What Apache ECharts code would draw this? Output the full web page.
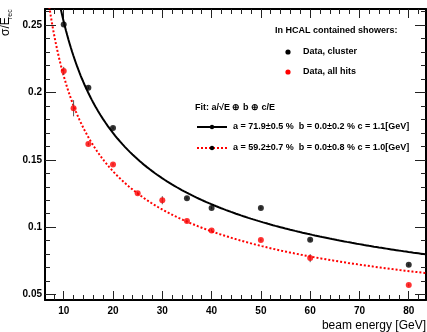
<!DOCTYPE html>
<html>
<head>
<meta charset="utf-8">
<script src="https://cdn.jsdelivr.net/npm/echarts@6/dist/echarts.min.js"></script>
<style>
  html, body { margin: 0; padding: 0; background: #fff; }
  #chart { width: 427px; height: 332px; }
</style>
</head>
<body>
<div id="chart"></div>
<script>
// Energy resolution of HCAL-contained showers: cluster vs. all-hits energy
const energyCluster = [10, 15, 20, 35, 40, 50, 60, 80];
const sigmaCluster  = [0.2505, 0.2036, 0.1737, 0.1215, 0.1143, 0.1143, 0.0906, 0.0720];
const errCluster    = [0.0012, 0.0010, 0.0010, 0.0010, 0.0010, 0.0010, 0.0010, 0.0010];

const energyHits = [10, 12, 15, 20, 25, 30, 35, 40, 50, 60, 80];
const sigmaHits  = [0.2160, 0.1883, 0.1618, 0.1466, 0.1252, 0.1200, 0.1045, 0.0976, 0.0904, 0.0770, 0.0570];
const errHits    = [0.0030, 0.0060, 0.0010, 0.0010, 0.0010, 0.0030, 0.0010, 0.0010, 0.0010, 0.0030, 0.0010];

// Fit parameters of sigma/E = a/sqrt(E) (+) b (+) c/E  (a, b as fractions, c in GeV)
const fitCluster = { a: 0.719, b: 0.000, c: 1.1 };
const fitHits    = { a: 0.592, b: 0.000, c: 1.0 };

const xTickValues = [10, 20, 30, 40, 50, 60, 70, 80];
const yTickValues = [0.05, 0.1, 0.15, 0.2, 0.25];

const X_MIN = 6.2, X_MAX = 83.5;
const Y_MIN = 0.0459, Y_MAX = 0.262;

const FONT = '"Liberation Sans", Arial, Helvetica, sans-serif';

// minor tick positions
const xMinor = [];
for (let v = 8; v <= 82; v += 2) if (v % 10 !== 0) xMinor.push(v);
const yMinor = [];
for (let k = 5; k <= 26; k++) if (k % 5 !== 0) yMinor.push(k / 100);

function resolution(p, E) {
  const s = p.a / Math.sqrt(E), c = p.c / E;
  return Math.sqrt(s * s + p.b * p.b + c * c);
}
function fitLine(p) {
  const pts = [];
  for (let E = X_MIN; E <= X_MAX + 1e-9; E += 0.25) pts.push([E, resolution(p, E)]);
  return pts;
}

const tickStyle = { color: '#222', width: 1 };
const frameStyle = { color: '#000', width: 2 };

function xAxisDef(position, values, len, showLine, showLabel) {
  return {
    type: 'value', min: X_MIN, max: X_MAX, position: position,
    axisLine: { show: showLine, onZero: false, lineStyle: frameStyle },
    axisTick: { show: true, inside: true, length: len, customValues: values, lineStyle: tickStyle },
    axisLabel: showLabel ? {
      show: true, customValues: values, margin: 6,
      fontFamily: FONT, fontSize: 10, fontWeight: 'bold', color: '#000'
    } : { show: false },
    splitLine: { show: false }
  };
}
function yAxisDef(position, values, len, showLine, showLabel) {
  return {
    type: 'value', min: Y_MIN, max: Y_MAX, position: position,
    axisLine: { show: showLine, onZero: false, lineStyle: frameStyle },
    axisTick: { show: true, inside: true, length: len, customValues: values, lineStyle: tickStyle },
    axisLabel: showLabel ? {
      show: true, customValues: values, margin: 3,
      fontFamily: FONT, fontSize: 10, fontWeight: 'bold', color: '#000',
      formatter: v => String(Math.round(v * 100) / 100)
    } : { show: false },
    splitLine: { show: false }
  };
}

function pairs(xs, ys) { return xs.map((x, i) => [x, ys[i]]); }
function errTriples(xs, ys, es) { return xs.map((x, i) => [x, ys[i], es[i]]); }

function errorBars(data) {
  return {
    type: 'custom', xAxisIndex: 0, yAxisIndex: 0, z: 3,
    data: data,
    renderItem: function (params, api) {
      const x = api.value(0), y = api.value(1), e = api.value(2);
      const lo = api.coord([x, y - e]), hi = api.coord([x, y + e]);
      return {
        type: 'line',
        shape: { x1: lo[0], y1: lo[1], x2: hi[0], y2: hi[1] },
        style: { stroke: '#555', lineWidth: 1 }
      };
    }
  };
}

const chart = echarts.init(document.getElementById('chart'), null, { renderer: 'canvas' });

const legendText = (x, y, text) => ({
  type: 'text', x: x, y: y,
  style: { text: text, fontFamily: FONT, fontSize: 9, fontWeight: 'bold', fill: '#000',
           textAlign: 'left', textVerticalAlign: 'middle' }
});

chart.setOption({
  animation: false,
  backgroundColor: '#fff',
  grid: { left: 45, right: 1, top: 9, bottom: 32, outerBoundsMode: 'none' },
  xAxis: [
    xAxisDef('bottom', xTickValues, 9, true, true),
    xAxisDef('bottom', xMinor, 5, false, false),
    xAxisDef('top', xTickValues, 9, true, false),
    xAxisDef('top', xMinor, 5, false, false)
  ],
  yAxis: [
    yAxisDef('left', yTickValues, 11, true, true),
    yAxisDef('left', yMinor, 5, false, false),
    yAxisDef('right', yTickValues, 11, true, false),
    yAxisDef('right', yMinor, 5, false, false)
  ],
  series: [
    {
      type: 'line', name: 'fit cluster', xAxisIndex: 0, yAxisIndex: 0,
      data: fitLine(fitCluster), showSymbol: false, clip: true, z: 2,
      lineStyle: { color: '#000', width: 2 }
    },
    {
      type: 'line', name: 'fit all hits', xAxisIndex: 0, yAxisIndex: 0,
      data: fitLine(fitHits), showSymbol: false, clip: true, z: 2,
      lineStyle: { color: '#ff0000', width: 2, type: [2, 2] }
    },
    errorBars(errTriples(energyCluster, sigmaCluster, errCluster)),
    errorBars(errTriples(energyHits, sigmaHits, errHits)),
    {
      type: 'scatter', name: 'Data, cluster', xAxisIndex: 0, yAxisIndex: 0, z: 4,
      data: pairs(energyCluster, sigmaCluster), symbol: 'circle', symbolSize: 6,
      itemStyle: { color: '#000' }
    },
    {
      type: 'scatter', name: 'Data, all hits', xAxisIndex: 0, yAxisIndex: 0, z: 4,
      data: pairs(energyHits, sigmaHits), symbol: 'circle', symbolSize: 6,
      itemStyle: { color: '#ff0000' }
    }
  ],
  graphic: [
    // axis titles
    {
      type: 'text', x: 12, y: 36, rotation: Math.PI / 2,
      style: { text: 'σ/E', fontFamily: FONT, fontSize: 12, fill: '#000',
               textAlign: 'left', textVerticalAlign: 'bottom' }
    },
    {
      type: 'text', x: 13.5, y: 19, rotation: Math.PI / 2,
      style: { text: 'rec', fontFamily: FONT, fontSize: 7, fill: '#000',
               textAlign: 'left', textVerticalAlign: 'bottom' }
    },
    {
      type: 'text', x: 426, y: 326,
      style: { text: 'beam energy [GeV]', fontFamily: FONT, fontSize: 12, fill: '#000',
               textAlign: 'right', textVerticalAlign: 'middle' }
    },
    // data legend
    legendText(275, 31, 'In HCAL contained showers:'),
    { type: 'circle', shape: { cx: 288, cy: 52, r: 2.6 }, style: { fill: '#000' } },
    legendText(303, 52, 'Data, cluster'),
    { type: 'circle', shape: { cx: 288, cy: 72, r: 2.6 }, style: { fill: '#ff0000' } },
    legendText(303, 72, 'Data, all hits'),
    // fit legend
    legendText(195, 108, 'Fit: a/√E ⊕ b ⊕ c/E'),
    { type: 'line', shape: { x1: 197, y1: 127, x2: 227, y2: 127 }, style: { stroke: '#000', lineWidth: 2 } },
    { type: 'circle', shape: { cx: 212, cy: 127, r: 2.2 }, style: { fill: '#000' } },
    legendText(233, 127, 'a = ' + (fitCluster.a * 100).toFixed(1) + '±0.5 %  b = ' + (fitCluster.b * 100).toFixed(1) + '±0.2 % c = ' + fitCluster.c.toFixed(1) + '[GeV]'),
    { type: 'line', shape: { x1: 197, y1: 148, x2: 227, y2: 148 }, style: { stroke: '#ff0000', lineWidth: 2, lineDash: [2, 2] } },
    { type: 'circle', shape: { cx: 212, cy: 148, r: 2.2 }, style: { fill: '#000' } },
    legendText(233, 148, 'a = ' + (fitHits.a * 100).toFixed(1) + '±0.7 %  b = ' + (fitHits.b * 100).toFixed(1) + '±0.8 % c = ' + fitHits.c.toFixed(1) + '[GeV]')
  ]
});
</script>
</body>
</html>
